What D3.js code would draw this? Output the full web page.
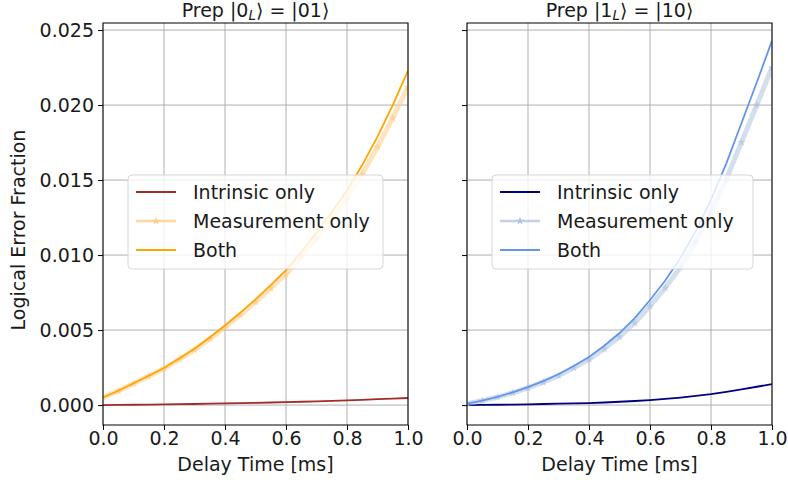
<!DOCTYPE html>
<html><head><meta charset="utf-8">
<script src="https://cdn.jsdelivr.net/npm/d3@7"></script>
<style>body{margin:0;background:#fff}svg{display:block}text{font-family:"DejaVu Sans",sans-serif;fill:#1a1a1a}</style>
</head><body><svg id="c" width="788" height="480"></svg>
<script>
const delay = [0,0.05,0.1,0.15,0.2,0.25,0.3,0.35,0.4,0.45,0.5,0.55,0.6,0.65,0.7,0.75,0.8,0.85,0.9,0.95,1.0];
const leftIntrinsic = [0,0.00001,0.00002,0.00003,0.00004,0.00006,0.00007,0.00009,0.00011,0.00013,0.00015,0.00017,0.00019,0.00022,0.00025,0.00028,0.00031,0.00035,0.00039,0.00043,0.00047];
const leftMeasurement = [0.00050,0.00094,0.00143,0.00192,0.00243,0.00305,0.00368,0.00441,0.00518,0.00600,0.00687,0.00778,0.00873,0.00988,0.01110,0.01240,0.01378,0.01540,0.01720,0.01915,0.02120];
const leftBoth = [0.00050,0.00095,0.00145,0.00195,0.00247,0.00310,0.00375,0.00450,0.00530,0.00615,0.00705,0.00800,0.00900,0.01020,0.01150,0.01285,0.01430,0.01600,0.01790,0.02000,0.02230];
const rightIntrinsic = [0,0.00001,0.00002,0.00003,0.00005,0.00007,0.00009,0.00011,0.00013,0.00017,0.00022,0.00027,0.00033,0.00041,0.00050,0.00061,0.00073,0.00088,0.00104,0.00122,0.00140];
const rightMeasurement = [0.00010,0.00029,0.00053,0.00082,0.00115,0.00153,0.00196,0.00248,0.00305,0.00375,0.00455,0.00548,0.00660,0.00782,0.00920,0.01088,0.01283,0.01505,0.01752,0.02000,0.02250];
const rightBoth = [0.00010,0.00030,0.00055,0.00085,0.00120,0.00160,0.00205,0.00260,0.00320,0.00395,0.00480,0.00580,0.00700,0.00830,0.00980,0.01160,0.01370,0.01610,0.01880,0.02150,0.02430];
const xTicks = [0,0.2,0.4,0.6,0.8,1.0];
const yTicks = [0,0.005,0.010,0.015,0.020,0.025];
const seriesNames = ["Intrinsic only","Measurement only","Both"];

const panels = [
  {x0:103, title:["0","01"], data:[leftIntrinsic,leftMeasurement,leftBoth], colors:["#a52a2a","#ffcc88","#ffa500"], showY:true},
  {x0:467, title:["1","10"], data:[rightIntrinsic,rightMeasurement,rightBoth], colors:["#000080","#b0c4de","#6495ed"], showY:false}
];
const FS = "19px";
const W = 305, plotTop = 23, plotBottom = 425;
const svg = d3.select("#c");
const y = d3.scaleLinear().domain([-0.00133,0.02547]).range([plotBottom,plotTop]);
const starPath = d3.symbol().type(d3.symbolStar).size(22)();

panels.forEach(p => {
  const x = d3.scaleLinear().domain([0,1]).range([p.x0,p.x0+W]);
  const g = svg.append("g");
  g.selectAll(".gx").data(xTicks).join("line").attr("x1",d=>x(d)).attr("x2",d=>x(d)).attr("y1",plotTop).attr("y2",plotBottom).attr("stroke","#b0b0b0").attr("stroke-width",1);
  g.selectAll(".gy").data(yTicks).join("line").attr("x1",p.x0).attr("x2",p.x0+W).attr("y1",d=>y(d)).attr("y2",d=>y(d)).attr("stroke","#b0b0b0").attr("stroke-width",1);
  const ax = g.append("g").attr("transform",`translate(0,${plotBottom})`).call(d3.axisBottom(x).tickValues(xTicks).tickFormat(d3.format(".1f")).tickSize(5).tickPadding(2));
  ax.select(".domain").remove();
  ax.selectAll("text").style("font-size",FS).attr("fill","#1a1a1a");
  const ay = g.append("g").attr("transform",`translate(${p.x0},0)`).call(d3.axisLeft(y).tickValues(yTicks).tickFormat(p.showY?d3.format(".3f"):"").tickSize(5).tickPadding(4));
  ay.select(".domain").remove();
  ay.selectAll("text").style("font-size",FS).attr("fill","#1a1a1a");
  const cid = "clip"+p.x0;
  svg.append("clipPath").attr("id",cid).append("rect").attr("x",p.x0).attr("y",plotTop).attr("width",W).attr("height",plotBottom-plotTop);
  const lines = g.append("g").attr("clip-path",`url(#${cid})`);
  const line = d3.line().x((d,i)=>x(delay[i])).y(d=>y(d));
  lines.append("path").attr("d",line(p.data[0])).attr("fill","none").attr("stroke",p.colors[0]).attr("stroke-width",1.8);
  lines.append("path").attr("d",line(p.data[1])).attr("fill","none").attr("stroke",p.colors[1]).attr("stroke-opacity",0.55).attr("stroke-width",5);
  lines.selectAll(".star").data(p.data[1]).join("path").attr("d",starPath)
    .attr("transform",(d,i)=>`translate(${x(delay[i])},${y(d)})`).attr("fill",p.colors[1]).attr("opacity",0.7);
  lines.append("path").attr("d",line(p.data[2])).attr("fill","none").attr("stroke",p.colors[2]).attr("stroke-width",1.8);
  g.append("rect").attr("x",p.x0).attr("y",plotTop).attr("width",W).attr("height",plotBottom-plotTop).attr("fill","none").attr("stroke","#000").attr("stroke-width",1);
  const t = g.append("text").attr("x",p.x0+W/2).attr("y",17).attr("text-anchor","middle").style("font-size",FS);
  t.append("tspan").text("Prep |"+p.title[0]);
  t.append("tspan").attr("dy",3).style("font-size","13.5px").style("font-style","italic").text("L");
  t.append("tspan").attr("dy",-3).text("⟩ = |"+p.title[1]+"⟩");
  g.append("text").attr("x",p.x0+W/2).attr("y",471).attr("text-anchor","middle").style("font-size",FS).text("Delay Time [ms]");
  const lx = p.x0+25, ly = 175;
  const lg = g.append("g");
  lg.append("rect").attr("x",lx).attr("y",ly).attr("width",p.showY?255:261).attr("height",94).attr("rx",4).attr("fill","#fff").attr("fill-opacity",0.8).attr("stroke","#d6d6d6");
  seriesNames.forEach((n,i)=>{
    const yy = ly+17+i*29;
    lg.append("line").attr("x1",lx+8).attr("x2",lx+48).attr("y1",yy).attr("y2",yy).attr("stroke",p.colors[i]).attr("stroke-width",i===1?2.5:1.8).attr("stroke-opacity",i===1?0.8:1);
    if(i===1) lg.append("path").attr("d",starPath).attr("transform",`translate(${lx+28},${yy})`).attr("fill",p.colors[1]);
    lg.append("text").attr("x",lx+65).attr("y",yy+7).style("font-size",FS).text(n);
  });
});
svg.append("text").attr("transform","translate(25,230) rotate(-90)").attr("text-anchor","middle").style("font-size",FS).text("Logical Error Fraction");
</script></body></html>
